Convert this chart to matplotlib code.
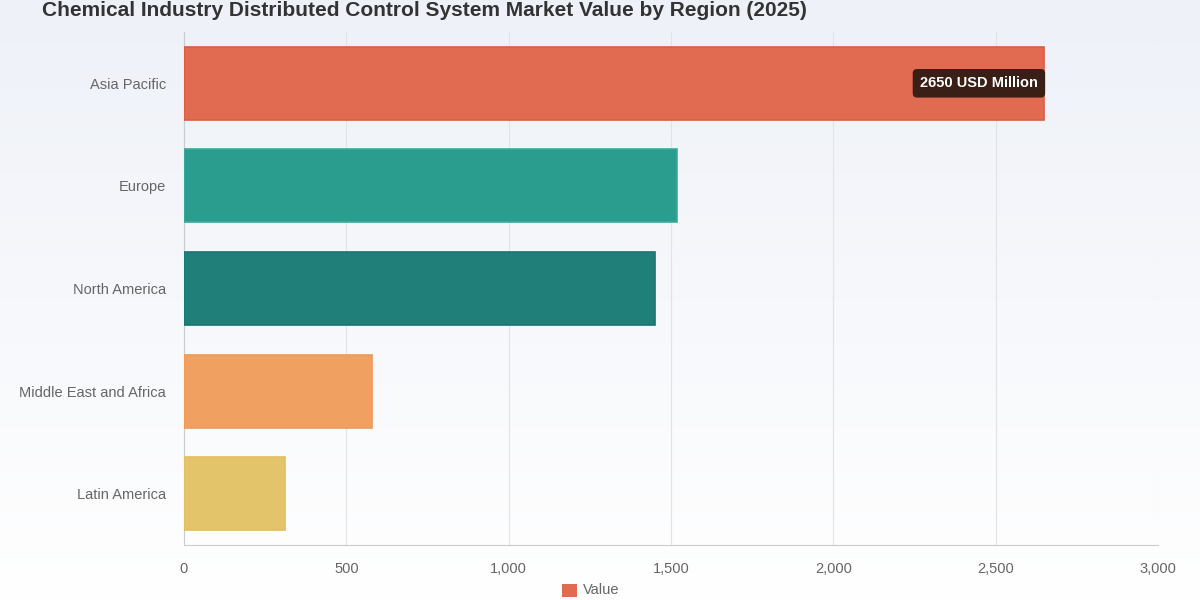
import numpy as np
import matplotlib.pyplot as plt
from matplotlib.ticker import FuncFormatter

plt.rcParams['font.family'] = ['Liberation Sans', 'DejaVu Sans']

regions = ["Asia Pacific", "Europe", "North America", "Middle East and Africa", "Latin America"]
values = [2650, 1520, 1450, 580, 310]
colors = ["#E06B50", "#2A9D8F", "#217F79", "#F0A060", "#E4C46A"]
edge_colors = ["#D85E43", "#3AAA9C", "#1C7370", "#EE9A58", "#E2BE62"]
xticks = [0, 500, 1000, 1500, 2000, 2500, 3000]

fig = plt.figure(figsize=(12, 6), dpi=100)

# soft background gradient
bg = fig.add_axes([0, 0, 1, 1], zorder=-1)
grad = np.linspace(0, 1, 256).reshape(-1, 1)
top = np.array([0.933, 0.945, 0.973])
bottom = np.array([1.0, 1.0, 1.0])
img = top + (bottom - top) * grad[:, :, None]
bg.imshow(img, aspect="auto", extent=[0, 1, 0, 1])
bg.axis("off")

ax = fig.add_axes([0.1533, 0.0917, 0.8117, 0.855])
ax.patch.set_alpha(0)

y = np.arange(len(regions))
ax.barh(y, values, height=0.71, color=colors, edgecolor=edge_colors, linewidth=1.2, zorder=3)
ax.set_yticks(y)
ax.set_yticklabels(regions)
ax.set_ylim(len(regions) - 0.5, -0.5)
ax.set_xlim(0, 3000)
ax.set_xticks(xticks)
ax.xaxis.set_major_formatter(FuncFormatter(lambda v, p: f"{int(v):,}"))
ax.tick_params(axis="both", length=0, labelsize=10.5, labelcolor="#666666")
ax.tick_params(axis="x", pad=12)
ax.tick_params(axis="y", pad=13)
ax.grid(axis="x", color="#e3e3e3", linewidth=0.8, zorder=0)
for s in ["top", "right"]:
    ax.spines[s].set_visible(False)
ax.spines["left"].set_color("#cccccc")
ax.spines["bottom"].set_color("#cccccc")

# tooltip-style label on the largest bar
ax.text(values[0] - 20, 0, f"{values[0]} USD Million", ha="right", va="center",
        fontsize=10.5, fontweight="bold", color="white", zorder=5,
        bbox=dict(boxstyle="round,pad=0.5,rounding_size=0.3", fc="#3a1f17", ec="none"))

fig.text(0.035, 0.999, "Chemical Industry Distributed Control System Market Value by Region (2025)",
         fontsize=15, fontweight="bold", color="#333333", ha="left", va="top")

# legend at bottom
fig.patches.append(plt.Rectangle((0.468, 0.005), 0.0125, 0.022, transform=fig.transFigure,
                                 fc="#E06B50", ec="none"))
fig.text(0.486, 0.016, "Value", fontsize=10.5, color="#666666", ha="left", va="center")

fig.savefig("out.png", dpi=100)
